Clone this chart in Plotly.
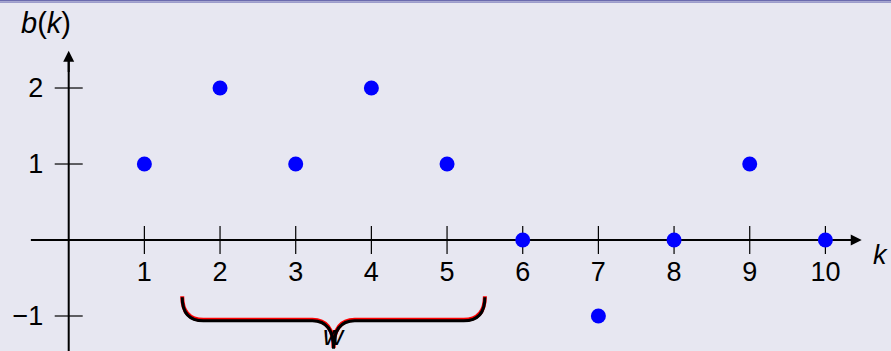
import plotly.graph_objects as go

# ---- data ----
k_values = [1, 2, 3, 4, 5, 6, 7, 8, 9, 10]
b_values = [1, 2, 1, 2, 1, 0, -1, 0, 1, 0]
x_tick_vals = [1, 2, 3, 4, 5, 6, 7, 8, 9, 10]
x_tick_text = ["1", "2", "3", "4", "5", "6", "7", "8", "9", "10"]
y_tick_vals = [-1, 1, 2]
y_tick_text = ["\u22121", "1", "2"]
brace_span = [1.5, 5.5]
brace_label = "w"

W, H = 891, 351
FONT = "Liberation Sans"
BG = "#E7E7F1"

# axis extents (data units)
x_range = [-0.908, 10.867]
y_range = [-1.4605, 3.158]
x_axis_span = [-0.5, 10.48]
y_axis_span = [-1.6, 2.49]

fig = go.Figure()

# tick marks (crossing the axes)
fig.add_trace(go.Scatter(
    x=x_tick_vals, y=[0] * len(x_tick_vals), mode="markers",
    marker=dict(symbol="line-ns", size=20, line=dict(width=1.2, color="black")),
    hoverinfo="skip", showlegend=False, cliponaxis=False))
fig.add_trace(go.Scatter(
    x=[0] * len(y_tick_vals), y=y_tick_vals, mode="markers",
    marker=dict(symbol="line-ew", size=20, line=dict(width=1.2, color="black")),
    hoverinfo="skip", showlegend=False, cliponaxis=False))

# data points
fig.add_trace(go.Scatter(
    x=k_values, y=b_values, mode="markers",
    marker=dict(color="#0000FF", size=15, line=dict(width=0)),
    showlegend=False, cliponaxis=False))

shapes = []
# axis lines (below markers)
shapes.append(dict(type="line", xref="x", yref="y", x0=x_axis_span[0], x1=x_axis_span[1] - 0.05,
                   y0=0, y1=0, line=dict(color="black", width=2), layer="below"))
shapes.append(dict(type="line", xref="x", yref="y", x0=0, x1=0, y0=y_axis_span[0],
                   y1=y_axis_span[1] - 0.05, line=dict(color="black", width=2), layer="below"))

# brace
xl, xr = brace_span
xm = (xl + xr) / 2
ytop, ymid, ytip = -0.74, -1.05, -1.42
rx = 0.28
def brace_path(dy):
    a, b, c = ytop + dy, ymid + dy, ytip + dy
    return (f"M {xl},{a} Q {xl},{b} {xl + rx},{b} L {xm - rx},{b} "
            f"Q {xm},{b} {xm},{c} Q {xm},{b} {xm + rx},{b} L {xr - rx},{b} "
            f"Q {xr},{b} {xr},{a}")
shapes.append(dict(type="path", xref="x", yref="y", path=brace_path(0),
                   line=dict(color="#FF0000", width=4.0)))
shapes.append(dict(type="path", xref="x", yref="y", path=brace_path(-0.012),
                   line=dict(color="black", width=3.0)))

# top border
shapes.append(dict(type="rect", xref="paper", yref="paper", x0=0, x1=1,
                   y0=1 - 1.2 / H, y1=1, line=dict(width=0), fillcolor="#6B6BAE"))
shapes.append(dict(type="rect", xref="paper", yref="paper", x0=0, x1=1,
                   y0=1 - 3 / H, y1=1 - 1.2 / H, line=dict(width=0), fillcolor="#9C9CCB"))

annotations = [
    # arrowheads
    dict(x=x_axis_span[1], y=0, ax=x_axis_span[1] - 0.3, ay=0, xref="x", yref="y",
         axref="x", ayref="y", text="", showarrow=True, arrowhead=2, arrowsize=1.1,
         arrowwidth=2, arrowcolor="black", standoff=0, startstandoff=0),
    dict(x=0, y=y_axis_span[1], ax=0, ay=y_axis_span[1] - 0.3, xref="x", yref="y",
         axref="x", ayref="y", text="", showarrow=True, arrowhead=2, arrowsize=1.1,
         arrowwidth=2, arrowcolor="black", standoff=0, startstandoff=0),
    # axis labels
    dict(x=46 / W, y=1 - 23 / H, xref="paper", yref="paper", text="<i>b</i>(<i>k</i>)",
         showarrow=False, font=dict(family=FONT, size=29, color="black"),
         xanchor="center", yanchor="middle"),
    dict(x=1.0, y=(H - 255) / H, xref="paper", yref="paper", text="<i>k</i>",
         showarrow=False, font=dict(family=FONT, size=27, color="black"),
         xanchor="right", yanchor="middle", xshift=-1),
    dict(x=xm, y=-1.25, xref="x", yref="y", text=f"<i>{brace_label}</i>",
         showarrow=False, font=dict(family=FONT, size=28, color="black"),
         xanchor="center", yanchor="middle"),
]

fig.update_layout(
    width=W, height=H,
    margin=dict(l=0, r=0, t=0, b=0),
    paper_bgcolor=BG, plot_bgcolor=BG,
    shapes=shapes, annotations=annotations,
    showlegend=False,
    xaxis=dict(range=x_range, anchor="free", position=(H - 240) / H, side="bottom",
               showline=False, zeroline=False, showgrid=False, fixedrange=True,
               tickvals=x_tick_vals, ticktext=x_tick_text,
               ticks="outside", ticklen=8, tickcolor="rgba(0,0,0,0)",
               tickfont=dict(family=FONT, size=27, color="black")),
    yaxis=dict(range=y_range, anchor="free", position=68.7 / W, side="left",
               showline=False, zeroline=False, showgrid=False, fixedrange=True,
               tickvals=y_tick_vals, ticktext=y_tick_text,
               ticks="outside", ticklen=20, tickcolor="rgba(0,0,0,0)",
               tickfont=dict(family=FONT, size=27, color="black")),
)

fig.write_html("out.html", config={"displayModeBar": False},
               post_script="document.body.style.margin='0px';document.body.style.background='" + BG + "';")
